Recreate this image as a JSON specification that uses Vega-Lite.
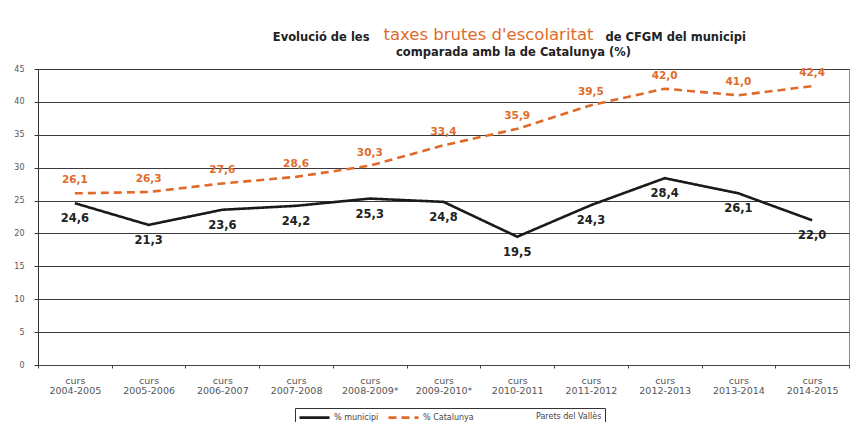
{
  "$schema": "https://vega.github.io/schema/vega-lite/v6.json",
  "width": 811,
  "height": 296,
  "autosize": {"type": "none"},
  "padding": {"left": 38, "top": 69, "right": 5, "bottom": 57},
  "background": "white",
  "config": {
    "locale": {"number": {"decimal": ",", "thousands": ".", "grouping": [3], "currency": ["", " €"]}},
    "font": "DejaVu Sans",
    "view": {"stroke": "#888"}
  },
  "title": {
    "text": "comparada amb la de Catalunya (%)",
    "anchor": "middle",
    "frame": "group",
    "dx": 70,
    "dy": 32,
    "offset": 0,
    "fontSize": 11.5,
    "fontWeight": "bold",
    "color": "#222",
    "font": "DejaVu Sans"
  },
  "data": {
    "values": [
      {"curs": "curs 2004-2005", "serie": "% municipi", "valor": 24.6},
      {"curs": "curs 2005-2006", "serie": "% municipi", "valor": 21.3},
      {"curs": "curs 2006-2007", "serie": "% municipi", "valor": 23.6},
      {"curs": "curs 2007-2008", "serie": "% municipi", "valor": 24.2},
      {"curs": "curs 2008-2009*", "serie": "% municipi", "valor": 25.3},
      {"curs": "curs 2009-2010*", "serie": "% municipi", "valor": 24.8},
      {"curs": "curs 2010-2011", "serie": "% municipi", "valor": 19.5},
      {"curs": "curs 2011-2012", "serie": "% municipi", "valor": 24.3},
      {"curs": "curs 2012-2013", "serie": "% municipi", "valor": 28.4},
      {"curs": "curs 2013-2014", "serie": "% municipi", "valor": 26.1},
      {"curs": "curs 2014-2015", "serie": "% municipi", "valor": 22.0},
      {"curs": "curs 2004-2005", "serie": "% Catalunya", "valor": 26.1},
      {"curs": "curs 2005-2006", "serie": "% Catalunya", "valor": 26.3},
      {"curs": "curs 2006-2007", "serie": "% Catalunya", "valor": 27.6},
      {"curs": "curs 2007-2008", "serie": "% Catalunya", "valor": 28.6},
      {"curs": "curs 2008-2009*", "serie": "% Catalunya", "valor": 30.3},
      {"curs": "curs 2009-2010*", "serie": "% Catalunya", "valor": 33.4},
      {"curs": "curs 2010-2011", "serie": "% Catalunya", "valor": 35.9},
      {"curs": "curs 2011-2012", "serie": "% Catalunya", "valor": 39.5},
      {"curs": "curs 2012-2013", "serie": "% Catalunya", "valor": 42.0},
      {"curs": "curs 2013-2014", "serie": "% Catalunya", "valor": 41.0},
      {"curs": "curs 2014-2015", "serie": "% Catalunya", "valor": 42.4}
    ]
  },
  "layer": [
    {
      "mark": {"type": "line", "strokeWidth": 2.6},
      "encoding": {
        "x": {
          "field": "curs", "type": "ordinal", "sort": null,
          "scale": {"type": "band", "paddingInner": 0, "paddingOuter": 0},
          "axis": {
            "orient": "bottom",
            "labelExpr": "split(datum.label, ' ')",
            "labelAngle": 0,
            "labelFont": "DejaVu Sans",
            "labelFontSize": 9.5,
            "labelLineHeight": 10.5,
            "labelColor": "#555",
            "labelPadding": 7,
            "tickBand": "extent",
            "tickSize": 3,
            "tickColor": "#444",
            "domainColor": "#444",
            "grid": false,
            "title": "taxes brutes d'escolaritat",
            "titleX": 450,
            "titleY": -326,
            "titleAlign": "center",
            "titleBaseline": "alphabetic",
            "titleAngle": 0,
            "titleFont": "DejaVu Sans",
            "titleFontSize": 16.5,
            "titleFontWeight": "normal",
            "titleColor": "#e06a2a"
          }
        },
        "y": {
          "field": "valor", "type": "quantitative",
          "scale": {"domain": [0, 45], "nice": false},
          "axis": {
            "orient": "left",
            "values": [0, 5, 10, 15, 20, 25, 30, 35, 40, 45],
            "tickSize": 4,
            "labelPadding": 10,
            "labelFont": "DejaVu Sans",
            "labelFontSize": 8,
            "labelColor": "#555",
            "domainColor": "#333",
            "tickColor": "#333",
            "grid": true,
            "gridColor": "#3a3a3a",
            "gridWidth": 1,
            "title": "Evolució de les",
            "titleX": 331,
            "titleY": -29,
            "titleAngle": 0,
            "titleAlign": "right",
            "titleBaseline": "alphabetic",
            "titleFont": "DejaVu Sans",
            "titleFontSize": 11.5,
            "titleFontWeight": "bold",
            "titleColor": "#222"
          }
        },
        "color": {
          "field": "serie", "type": "nominal",
          "scale": {"domain": ["% municipi", "% Catalunya"], "range": ["#1a1a1a", "#e06a2a"]},
          "legend": {
            "orient": "none", "legendX": 257, "legendY": 339,
            "direction": "horizontal",
            "title": "Parets del Vallès", "titleOrient": "right",
            "titleFont": "DejaVu Sans", "titleFontSize": 8, "titleFontWeight": "normal", "titleColor": "#444", "titlePadding": 62,
            "titleBaseline": "middle",
            "strokeColor": "#333", "padding": 3,
            "symbolType": "M-1,0H5", "symbolSize": 100, "symbolStrokeWidth": 2.6,
            "labelOffset": 23,
            "labelFont": "DejaVu Sans", "labelFontSize": 8, "labelColor": "#444", "columnPadding": 4
          }
        },
        "strokeDash": {
          "field": "serie", "type": "nominal",
          "scale": {"domain": ["% municipi", "% Catalunya"], "range": [[1, 0], [8, 5]]},
          "legend": {
            "orient": "none", "legendX": 257, "legendY": 339,
            "direction": "horizontal",
            "title": "Parets del Vallès", "titleOrient": "right",
            "titleFont": "DejaVu Sans", "titleFontSize": 8, "titleFontWeight": "normal", "titleColor": "#444", "titlePadding": 62,
            "titleBaseline": "middle",
            "strokeColor": "#333", "padding": 3,
            "symbolType": "M-1,0H5", "symbolSize": 100, "symbolStrokeWidth": 2.6,
            "labelOffset": 23,
            "labelFont": "DejaVu Sans", "labelFontSize": 8, "labelColor": "#444", "columnPadding": 4
          }
        }
      }
    },
    {
      "transform": [{"filter": "datum.serie === '% municipi'"}],
      "mark": {"type": "text", "dy": 16, "font": "DejaVu Sans", "fontWeight": "bold", "fontSize": 11.5, "color": "#222"},
      "encoding": {
        "x": {
          "field": "curs", "type": "ordinal", "sort": null,
          "axis": {
            "orient": "top", "labels": false, "ticks": false, "domain": false, "grid": false,
            "title": "de CFGM del municipi",
            "titleX": 567, "titleY": -29, "titleAngle": 0,
            "titleAlign": "left", "titleBaseline": "alphabetic",
            "titleFont": "DejaVu Sans",
            "titleFontSize": 11.5, "titleFontWeight": "bold", "titleColor": "#222"
          }
        },
        "y": {"field": "valor", "type": "quantitative", "axis": null},
        "text": {"field": "valor", "type": "quantitative", "format": ".1f"}
      }
    },
    {
      "transform": [{"filter": "datum.serie === '% Catalunya'"}],
      "mark": {"type": "text", "dy": -13, "font": "DejaVu Sans", "fontWeight": "bold", "fontSize": 10.5, "color": "#e06a2a"},
      "encoding": {
        "x": {"field": "curs", "type": "ordinal", "sort": null, "axis": null},
        "y": {"field": "valor", "type": "quantitative", "axis": null},
        "text": {"field": "valor", "type": "quantitative", "format": ".1f"}
      }
    }
  ],
  "resolve": {"axis": {"x": "independent", "y": "independent"}}
}
